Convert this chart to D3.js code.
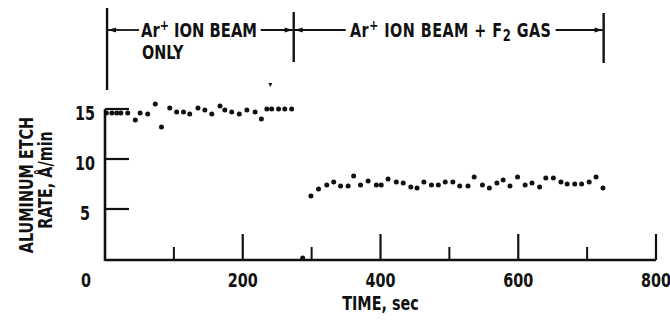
<!DOCTYPE html>
<html>
<head>
<meta charset="utf-8">
<script src="https://cdn.jsdelivr.net/npm/d3@7"></script>
<style>
  html, body { margin: 0; padding: 0; background: #fff; }
  svg { display: block; }
  text { font-family: "DejaVu Sans Condensed", "Liberation Sans Narrow", "Arial Narrow", sans-serif; font-weight: bold; fill: #111; }
</style>
</head>
<body>
<svg id="chart" width="670" height="324"></svg>
<script>
// Etch-rate measurements, seconds vs. Å/min
const beamOnlyTime = [2, 10, 17, 23, 33, 44, 51, 62, 73, 82, 94, 104, 114, 123, 135, 145, 155, 167, 174, 184, 195, 206, 218, 227, 235, 242, 252, 261, 271];
const beamOnlyRate = [14.6, 14.6, 14.6, 14.6, 14.6, 13.9, 14.6, 14.5, 15.5, 13.2, 15.1, 14.7, 14.7, 14.5, 15.1, 14.9, 14.5, 15.3, 14.9, 14.7, 14.5, 14.9, 14.7, 14.0, 15.0, 15.0, 15.0, 15.0, 15.0];

const gasTime = [287, 299, 310, 322, 332, 342, 353, 361, 371, 382, 394, 401, 411, 423, 433, 444, 453, 463, 474, 484, 494, 505, 515, 527, 536, 548, 558, 569, 578, 588, 599, 610, 620, 631, 640, 651, 662, 671, 682, 692, 703, 713, 723];
const gasRate = [0.1, 6.3, 7.0, 7.4, 7.7, 7.3, 7.3, 8.3, 7.4, 7.8, 7.4, 7.4, 8.0, 7.7, 7.6, 7.2, 7.1, 7.7, 7.4, 7.4, 7.7, 7.7, 7.3, 7.3, 8.2, 7.4, 7.1, 7.6, 7.9, 7.3, 8.2, 7.4, 7.6, 7.2, 8.1, 8.1, 7.7, 7.5, 7.5, 7.5, 7.7, 8.2, 7.1];

const xMajorTicks = [200, 400, 600, 800];
const xMinorTicks = [100, 300, 500, 700];
const yTicks = [5, 10, 15];

// Experiment phases shown as brackets above the plot
const phaseEdges = [3, 274, 724];

const svg = d3.select("#chart");
const x = d3.scaleLinear().domain([0, 800]).range([105, 656]);
const y = d3.scaleLinear().domain([0, 15]).range([259, 109]);

const ink = "#111";
const STRETCH = 1.22; // tall, narrow lettering

// text placed at (px, py), drawn slightly stretched vertically
function label(parent, px, py, anchor, size, rotate) {
  const g = parent.append("g")
    .attr("transform", `translate(${px},${py})${rotate ? ` rotate(${rotate})` : ""} scale(1,${STRETCH})`);
  return g.append("text").attr("x", 0).attr("y", 0).attr("text-anchor", anchor).attr("font-size", size);
}

// axes
svg.append("line").attr("x1", x(0)).attr("x2", x(800)).attr("y1", 260).attr("y2", 260)
  .attr("stroke", ink).attr("stroke-width", 2.4);
svg.append("line").attr("x1", x(0)).attr("x2", x(0)).attr("y1", 261).attr("y2", y(15))
  .attr("stroke", ink).attr("stroke-width", 2.6);

svg.selectAll(".xmaj").data(xMajorTicks).join("line")
  .attr("x1", d => x(d)).attr("x2", d => x(d)).attr("y1", 260).attr("y2", 234)
  .attr("stroke", ink).attr("stroke-width", 2.2);
svg.selectAll(".xmin").data(xMinorTicks).join("line")
  .attr("x1", d => x(d)).attr("x2", d => x(d)).attr("y1", 260).attr("y2", 247)
  .attr("stroke", ink).attr("stroke-width", 2);

svg.selectAll(".ytick").data(yTicks).join("line")
  .attr("x1", x(0)).attr("x2", x(0) + 24).attr("y1", d => y(d)).attr("y2", d => y(d))
  .attr("stroke", ink).attr("stroke-width", 2.2);

// tick labels
xMajorTicks.forEach(d => label(svg, x(d), 287, "middle", 16).text(d));
label(svg, x(0) - 19, 287, "middle", 16).text("0");
yTicks.forEach(d => label(svg, x(0) - 20, y(d) + 11, "middle", 16).text(d));

// axis titles
label(svg, x(400), 310, "middle", 16).text("TIME, sec");
label(svg, 33, 185, "middle", 16, -90).text("ALUMINUM ETCH");
label(svg, 52, 180, "middle", 16, -90).text("RATE, Å/min");

// data points
svg.selectAll(".p1").data(beamOnlyTime).join("circle")
  .attr("cx", d => x(d)).attr("cy", (d, i) => y(beamOnlyRate[i])).attr("r", 2.5).attr("fill", ink);
svg.selectAll(".p2").data(gasTime).join("circle")
  .attr("cx", d => x(d)).attr("cy", (d, i) => y(gasRate[i])).attr("r", 2.5).attr("fill", ink);

// phase brackets
const bracketY = 30;
svg.append("line").attr("x1", x(phaseEdges[0])).attr("x2", x(phaseEdges[0])).attr("y1", 8).attr("y2", 90)
  .attr("stroke", ink).attr("stroke-width", 2.4);
svg.append("line").attr("x1", x(phaseEdges[1])).attr("x2", x(phaseEdges[1])).attr("y1", 12).attr("y2", 62)
  .attr("stroke", ink).attr("stroke-width", 2.4);
svg.append("line").attr("x1", x(phaseEdges[2])).attr("x2", x(phaseEdges[2])).attr("y1", 13).attr("y2", 63)
  .attr("stroke", ink).attr("stroke-width", 2.4);

function arrow(from, to) {
  svg.append("line").attr("x1", from).attr("x2", to).attr("y1", bracketY).attr("y2", bracketY)
    .attr("stroke", ink).attr("stroke-width", 1.8);
  const dir = Math.sign(to - from);
  svg.append("path")
    .attr("d", `M${to},${bracketY} L${to - dir * 8},${bracketY - 2.6} L${to - dir * 8},${bracketY + 2.6} Z`)
    .attr("fill", ink);
}
arrow(x(phaseEdges[0]) + 32, x(phaseEdges[0]) + 1);
arrow(x(phaseEdges[1]) - 33, x(phaseEdges[1]) - 1);
arrow(x(phaseEdges[1]) + 52, x(phaseEdges[1]) + 1);
arrow(x(phaseEdges[2]) - 48, x(phaseEdges[2]) - 1);

const t1 = label(svg, 141, 37, "start", 16)
  .attr("textLength", 116).attr("lengthAdjust", "spacingAndGlyphs");
t1.append("tspan").text("Ar");
t1.append("tspan").attr("dy", -6).attr("font-size", 12).text("+");
t1.append("tspan").attr("dy", 6).text(" ION BEAM");
label(svg, 142, 59, "start", 16).text("ONLY");

const t2 = label(svg, 350, 37, "start", 16)
  .attr("textLength", 201).attr("lengthAdjust", "spacing");
t2.append("tspan").text("Ar");
t2.append("tspan").attr("dy", -6).attr("font-size", 12).text("+");
t2.append("tspan").attr("dy", 6).text(" ION BEAM + F");
t2.append("tspan").attr("dy", 3).attr("font-size", 13).text("2");
t2.append("tspan").attr("dy", -3).text(" GAS");

// stray mark above the first run
svg.append("path").attr("d", `M${x(240) - 2},83 L${x(240) + 2},83 L${x(240)},87 Z`).attr("fill", ink);
</script>
</body>
</html>
